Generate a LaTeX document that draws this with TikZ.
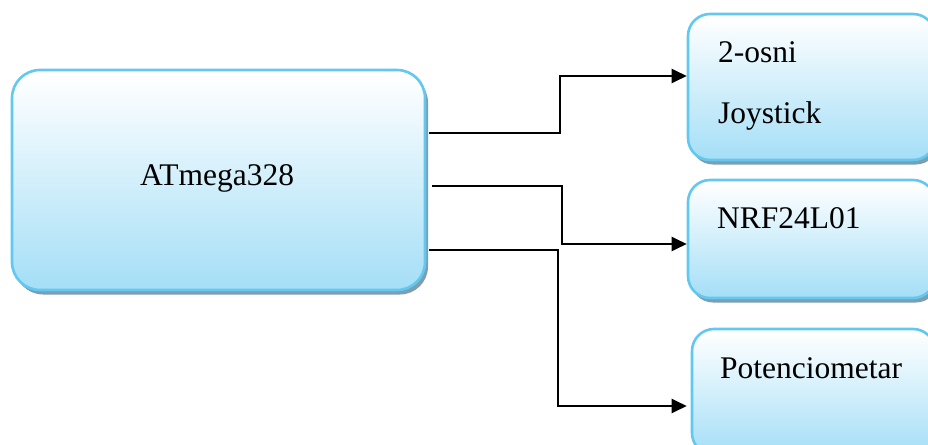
\documentclass[tikz,border=0pt]{standalone}
\usepackage{fontspec}
\setmainfont{Liberation Serif}
\usetikzlibrary{arrows.meta,shadows}
\definecolor{bord}{RGB}{98,200,240}
\definecolor{fillb}{RGB}{155,219,246}
\definecolor{shad}{RGB}{122,158,178}
\pgfdeclareverticalshading{boxshade}{100bp}{color(0bp)=(fillb); color(20bp)=(fillb); color(74bp)=(white); color(100bp)=(white)}
\begin{document}
\begin{tikzpicture}[x=1pt,y=-1pt,
  box/.style={draw=bord,line width=2.6pt,shading=boxshade,rectangle,inner sep=0pt,
    drop shadow={shadow xshift=3pt,shadow yshift=-4.5pt,fill=shad,opacity=1}},
  bigbox/.style={box,rounded corners=28pt},
  smallbox/.style={box,rounded corners=22pt},
  txt/.style={font=\fontsize{31.5}{36}\selectfont,inner sep=0pt},
  conn/.style={line width=2.2pt,black,-{Triangle[length=15pt,width=14pt]}}]
\useasboundingbox (0,0) rectangle (928,444);
\clip (0,0) rectangle (928,444);
\node[bigbox,minimum width=413pt,minimum height=220pt] (main) at (218.5,180) {};
\node[smallbox,minimum width=247pt,minimum height=146pt] (joy) at (811.5,87) {};
\node[smallbox,minimum width=247pt,minimum height=118pt] (nrf) at (811.5,239) {};
\node[smallbox,minimum width=243pt,minimum height=126pt] (pot) at (813.5,392) {};
\node[txt,anchor=base] (tmain) at (217,185) {ATmega328};
\node[txt,anchor=base west] (tjoy1) at (718,63) {2-osni};
\node[txt,anchor=base west] (tjoy2) at (718,123) {Joystick};
\node[txt,anchor=base west] (tnrf) at (717,228) {NRF24L01};
\node[txt,anchor=base west] (tpot) at (720,378) {Potenciometar};
\coordinate (s1) at (429,133);
\coordinate (s2) at (432,186);
\coordinate (s3) at (429,250);
\draw[conn] (s1) -- ++(131,0) |- ([yshift=11pt]joy.west);
\draw[conn] (s2) -- ++(130,0) |- ([yshift=-5pt]nrf.west);
\draw[conn,shorten >=4pt] (s3) -- ++(129,0) |- ([yshift=-14pt]pot.west);
\end{tikzpicture}
\end{document}
